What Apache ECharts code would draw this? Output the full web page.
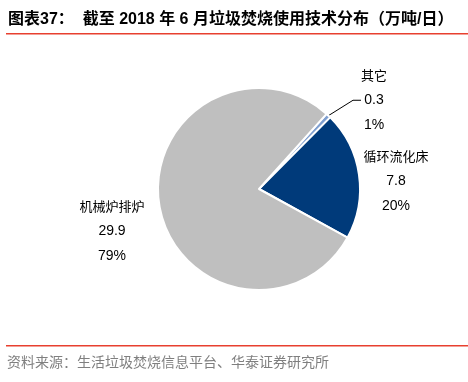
<!DOCTYPE html>
<html><head><meta charset="utf-8">
<script src="https://cdn.jsdelivr.net/npm/echarts@6/dist/echarts.min.js"></script>
<style>html,body{margin:0;padding:0;background:#fff}#c{width:468px;height:382px}</style>
</head><body><div id="c"></div>
<script>
const categories = ['其它', '循环流化床', '机械炉排炉'];
const values = [0.3, 7.8, 29.9];
const colors = ['#7F9FD0', '#003A7A', '#BFBFBF'];
const titleText = '图表37：  截至 2018 年 6 月垃圾焚烧使用技术分布（万吨/日）';
const sourceText = '资料来源：生活垃圾焚烧信息平台、华泰证券研究所';

const labelPos = [[374, 100], [396, 181], [112, 231]];

const chart = echarts.init(document.getElementById('c'), null, {renderer: 'canvas'});
chart.setOption({
  animation: false,
  graphic: [
    {type: 'text', left: 8, top: 12, style: {text: titleText, font: 'bold 16px "Liberation Sans", "Noto Sans CJK SC"', fill: '#000'}},
    {type: 'rect', shape: {x: 6, y: 33, width: 462, height: 1.5}, style: {fill: '#E8402F'}},
    {type: 'rect', shape: {x: 6, y: 345, width: 462, height: 1.5}, style: {fill: '#E8402F'}},
    {type: 'text', left: 7, top: 355, style: {text: sourceText, font: '14px "Noto Sans CJK SC"', fill: '#7F7F7F'}}
  ],
  series: [{
    type: 'pie',
    center: [259, 189],
    radius: [0, 101],
    startAngle: 48,
    clockwise: true,
    percentPrecision: 0,
    data: categories.map((n, i) => ({name: n, value: values[i], itemStyle: {color: colors[i]}, labelLine: {show: i === 0}})),
    itemStyle: {borderColor: '#fff', borderWidth: 2},
    label: {
      show: true,
      formatter: '{n|{b}}\n{v|{c}}\n{v|{d}%}',
      rich: {
        n: {fontFamily: '"Noto Sans CJK SC"', fontSize: 13, color: '#000', lineHeight: 25},
        v: {fontFamily: '"Liberation Sans", Arial', fontSize: 14, color: '#000', lineHeight: 25}
      },
      align: 'center'
    },
    labelLine: {show: true, length: 12, length2: 8, lineStyle: {color: '#000', width: 1}},
    labelLayout: function (p) {
      const pos = labelPos[p.dataIndex];
      return {x: pos[0], y: pos[1], align: 'center', verticalAlign: 'middle'};
    }
  }]
});
</script></body></html>
